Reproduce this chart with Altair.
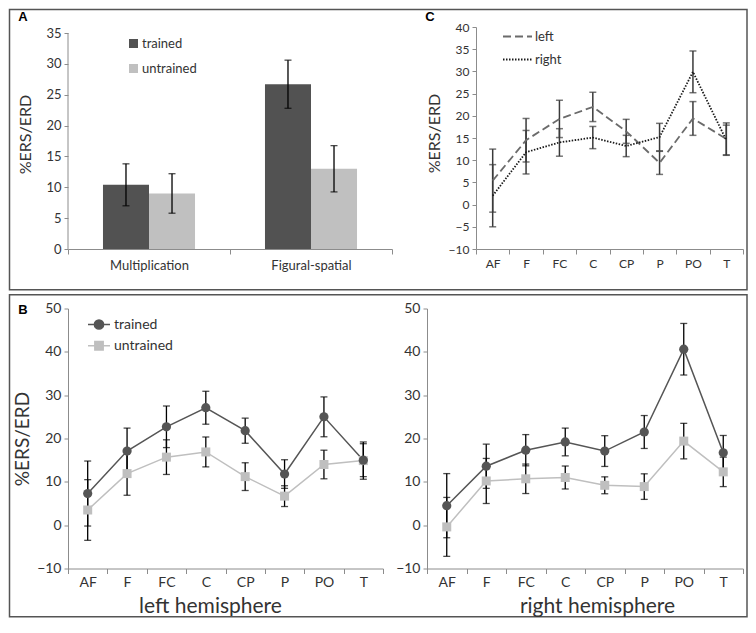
import altair as alt
import pandas as pd

# ---------------- data ----------------
sites = ["AF", "F", "FC", "C", "CP", "P", "PO", "T"]
tasks = ["Multiplication", "Figural-spatial"]
groups = ["trained", "untrained"]
hemis = ["left", "right"]

# Panel A (bars)
a_trained = [10.4, 26.7]
a_trained_err = [3.4, 3.9]
a_untrained = [9.0, 13.0]
a_untrained_err = [3.2, 3.75]

# Panel C (left vs right hemisphere)
c_left = [5.4, 14.5, 19.3, 22.0, 16.5, 9.4, 19.4, 14.8]
c_left_err = [7.1, 4.9, 4.2, 3.3, 2.7, 2.6, 3.8, 3.6]
c_right = [2.0, 11.8, 14.0, 15.1, 13.2, 15.2, 29.9, 14.5]
c_right_err = [7.0, 4.9, 3.1, 2.5, 2.4, 3.1, 4.7, 3.4]

# Panel B, left hemisphere
bl_trained = [7.3, 17.1, 22.7, 27.1, 21.8, 11.8, 25.0, 15.0]
bl_trained_err = [7.5, 5.3, 4.8, 3.8, 2.9, 3.3, 4.6, 3.8]
bl_untrained = [3.5, 11.9, 15.7, 16.9, 11.2, 6.7, 14.0, 14.9]
bl_untrained_err = [7.0, 5.0, 4.0, 3.45, 3.2, 2.4, 3.3, 4.3]

# Panel B, right hemisphere
br_trained = [4.5, 13.6, 17.3, 19.2, 17.1, 21.5, 40.6, 16.7]
br_trained_err = [7.4, 5.1, 3.6, 3.2, 3.55, 3.8, 5.95, 4.0]
br_untrained = [-0.4, 10.2, 10.7, 11.0, 9.2, 8.9, 19.4, 12.3]
br_untrained_err = [6.8, 5.2, 3.4, 2.65, 1.95, 2.95, 4.1, 3.4]

a_ticks = [0, 5, 10, 15, 20, 25, 30, 35]
c_ticks = [-10, -5, 0, 5, 10, 15, 20, 25, 30, 35, 40]
b_ticks = [-10, 0, 10, 20, 30, 40, 50]

# ---------------- style ----------------
FONT = "Lato"
DARK = "#555555"
LIGHT = "#bfbfbf"
AXG = "#8c8c8c"
TXT = "#333333"
Y_TITLE = "%ERS/ERD"

one = pd.DataFrame({"k": [0]})


def box(x0, x1, y0, y1):
    return alt.Chart(one).mark_rect(fill="transparent", stroke="#555555", strokeWidth=1.5).encode(
        x=alt.value(x0), x2=alt.value(x1), y=alt.value(y0), y2=alt.value(y1))


def letter(t, x, y):
    return alt.Chart(one).mark_text(text=t, font="Liberation Sans", fontSize=13, fontWeight="bold",
                                    color="black", align="center", baseline="middle").encode(
        x=alt.value(x), y=alt.value(y))


def with_bounds(df):
    df = df.copy()
    df["lo"] = df["value"] - df["err"]
    df["hi"] = df["value"] + df["err"]
    return df


# ---------------- Panel A ----------------
A_W, A_H = 324, 222
a_top = 35 * A_H / 216.0

dfA = with_bounds(pd.DataFrame({
    "task": tasks + tasks,
    "group": ["trained"] * 2 + ["untrained"] * 2,
    "value": a_trained + a_untrained,
    "err": a_trained_err + a_untrained_err,
}))


def xA():
    return alt.X("task:N", sort=tasks,
                 scale=alt.Scale(domain=tasks, paddingInner=0, paddingOuter=0),
                 axis=alt.Axis(title=None, labelAngle=0, tickBand="extent", labelFontSize=13,
                               labelPadding=5, tickSize=5))


def xoA():
    return alt.XOffset("group:N", sort=groups,
                       scale=alt.Scale(domain=groups, paddingInner=0, paddingOuter=0.76))


def yA(field):
    return alt.Y(field, type="quantitative",
                 scale=alt.Scale(domain=[0, a_top], nice=False, zero=False),
                 axis=alt.Axis(values=a_ticks, domain=False, title=Y_TITLE, titleX=-43, titleY=107,
                               titleFontSize=16, titleAngle=270, titleAlign="center",
                               titleBaseline="middle", tickSize=4, labelPadding=3, labelFontSize=13))


legA = alt.Legend(title=None, orient="none", legendX=59, legendY=10, symbolType="square",
                  symbolSize=81, symbolStrokeWidth=0, labelFontSize=13, rowPadding=11,
                  labelOffset=2, padding=0, labelFont=FONT, labelColor=TXT)

barsA = alt.Chart(dfA).mark_bar().encode(
    x=xA(), xOffset=xoA(), y=yA("value"),
    color=alt.Color("group:N", sort=groups,
                    scale=alt.Scale(domain=groups, range=["#525252", "#c0c0c0"]), legend=legA))
errA = alt.Chart(dfA).mark_rule(color="black", strokeWidth=1.3).encode(
    x=xA(), xOffset=xoA(), y=yA("lo"), y2="hi:Q")
capLoA = alt.Chart(dfA).mark_tick(color="black", size=7, thickness=1.3).encode(
    x=xA(), xOffset=xoA(), y=yA("lo"))
capHiA = alt.Chart(dfA).mark_tick(color="black", size=7, thickness=1.3).encode(
    x=xA(), xOffset=xoA(), y=yA("hi"))
axisLineA = alt.Chart(pd.DataFrame({"y0": [0], "y1": [35]})).mark_rule(color=AXG).encode(
    x=alt.value(0), y=yA("y0"), y2="y1:Q")

panelA = alt.layer(
    box(-58.5, 679, -17.5, 262.75),
    axisLineA, barsA, errA, capLoA, capHiA,
    letter("A", -45, -10.5),
).properties(width=A_W, height=A_H)

# ---------------- Panel C ----------------
C_W, C_H = 267, 222
dfC = with_bounds(pd.DataFrame({
    "site": sites * 2,
    "hemi": ["left"] * 8 + ["right"] * 8,
    "value": c_left + c_right,
    "err": c_left_err + c_right_err,
}))


def xSite(label_size=13, title=None, title_x=0, label_pad=4):
    ax = dict(title=title, labelAngle=0, tickBand="extent", labelFontSize=label_size,
              tickSize=5, labelPadding=label_pad)
    if title:
        ax.update(titleX=title_x, titleY=38, titleFontSize=21, titleAlign="center",
                  titleBaseline="middle")
    return alt.X("site:N", sort=sites,
                 scale=alt.Scale(type="band", domain=sites, paddingInner=0, paddingOuter=0),
                 axis=alt.Axis(**ax))


def yC(field):
    return alt.Y(field, type="quantitative",
                 scale=alt.Scale(domain=[-10, 40], nice=False, zero=False),
                 axis=alt.Axis(values=c_ticks, title=Y_TITLE, titleX=-42, titleY=106,
                               titleFontSize=16, titleAngle=270, titleAlign="center",
                               titleBaseline="middle", tickSize=4, labelPadding=3, labelFontSize=12))


legC = alt.Legend(title=None, orient="none", legendX=26, legendY=-6, symbolType="stroke",
                  symbolSize=841, symbolStrokeWidth=1.8, labelFontSize=13, rowPadding=-12,
                  labelOffset=2, padding=0, labelFont=FONT, labelColor=TXT)

linesC = alt.Chart(dfC).mark_line(strokeWidth=1.8).encode(
    x=xSite(12), y=yC("value"),
    color=alt.Color("hemi:N", sort=hemis, scale=alt.Scale(domain=hemis, range=["#6b6b6b", "#1a1a1a"]),
                    legend=legC),
    strokeDash=alt.StrokeDash("hemi:N", sort=hemis,
                              scale=alt.Scale(domain=hemis, range=[[8, 4], [1.5, 1.5]]), legend=legC),
    detail="hemi:N")
errC = alt.Chart(dfC).mark_rule(color="#3a3a3a", strokeWidth=1.5).encode(
    x=xSite(12), y=yC("lo"), y2="hi:Q")
capLoC = alt.Chart(dfC).mark_tick(color="#3a3a3a", size=7, thickness=1.5).encode(x=xSite(12), y=yC("lo"))
capHiC = alt.Chart(dfC).mark_tick(color="#3a3a3a", size=7, thickness=1.5).encode(x=xSite(12), y=yC("hi"))

panelC = alt.layer(errC, capLoC, capHiC, linesC, letter("C", -46, -10.5)).properties(
    width=C_W, height=C_H)

# ---------------- Panel B ----------------
B_H = 260
circ_path = ("M-1,0L-0.42,0M0.42,0L1,0M-0.42,0A0.42,0.42,0,1,1,0.42,0"
             "A0.42,0.42,0,1,1,-0.42,0Z")
sq_path = "M-1,0L-0.38,0M0.38,0L1,0M-0.38,-0.38L0.38,-0.38L0.38,0.38L-0.38,0.38Z"


def panelB(tr, tr_err, un, un_err, xtitle, title_x, width, y_title, legend, extra):
    df = with_bounds(pd.DataFrame({
        "site": sites * 2,
        "group": ["trained"] * 8 + ["untrained"] * 8,
        "value": tr + un,
        "err": tr_err + un_err,
    }))

    def y(field):
        ax = dict(values=b_ticks, title=y_title, tickSize=4, labelPadding=3, labelFontSize=14)
        if y_title:
            ax.update(titleX=-46, titleY=130, titleFontSize=19, titleAngle=270,
                      titleAlign="center", titleBaseline="middle")
        return alt.Y(field, type="quantitative",
                     scale=alt.Scale(domain=[-10, 50], nice=False, zero=False),
                     axis=alt.Axis(**ax))

    x = lambda: xSite(14, xtitle, title_x, 2)
    layers = list(extra)
    layers.append(alt.Chart(df).transform_filter(alt.datum.group == "untrained").mark_line(
        color=LIGHT, strokeWidth=1.5).encode(x=x(), y=y("value")))
    layers.append(alt.Chart(df).transform_filter(alt.datum.group == "trained").mark_line(
        color=DARK, strokeWidth=1.5).encode(x=x(), y=y("value")))
    layers.append(alt.Chart(df).mark_rule(color="black", strokeWidth=1.3).encode(
        x=x(), y=y("lo"), y2="hi:Q"))
    layers.append(alt.Chart(df).mark_tick(color="black", size=7, thickness=1.3).encode(
        x=x(), y=y("lo")))
    layers.append(alt.Chart(df).mark_tick(color="black", size=7, thickness=1.3).encode(
        x=x(), y=y("hi")))
    layers.append(alt.Chart(df).transform_filter(alt.datum.group == "untrained").mark_square(
        color=LIGHT, size=81, opacity=1).encode(x=x(), y=y("value")))
    layers.append(alt.Chart(df).transform_filter(alt.datum.group == "trained").mark_circle(
        color=DARK, size=85, opacity=1).encode(x=x(), y=y("value")))
    if legend:
        dleg = pd.DataFrame({"site": ["AF", "AF"], "group": groups, "ynull": [None, None]})
        legB = alt.Legend(title=None, orient="none", legendX=19, legendY=4, symbolSize=484,
                          symbolStrokeWidth=1.5, labelFontSize=14, rowPadding=1.3,
                          labelOffset=3, padding=0, labelFont=FONT, labelColor=TXT)
        layers.append(alt.Chart(dleg).mark_point(filled=True, size=484, strokeWidth=1.5, opacity=1).encode(
            x=x(), y=y("ynull"),
            fill=alt.Fill("group:N", sort=groups, scale=alt.Scale(domain=groups, range=[DARK, LIGHT]),
                          legend=legB),
            stroke=alt.Stroke("group:N", sort=groups, scale=alt.Scale(domain=groups, range=[DARK, LIGHT]),
                              legend=legB),
            shape=alt.Shape("group:N", sort=groups,
                            scale=alt.Scale(domain=groups, range=[circ_path, sq_path]), legend=legB)))
    return alt.layer(*layers).properties(width=width, height=B_H)


panelBL = panelB(bl_trained, bl_trained_err, bl_untrained, bl_untrained_err,
                 "left hemisphere", 142, 315, Y_TITLE, True,
                 [box(-58.5, 679, -13.75, 308.25), letter("B", -45, 1)])
panelBR = panelB(br_trained, br_trained_err, br_untrained, br_untrained_err,
                 "right hemisphere", 170, 316, None, False, [])

indep = dict(color="independent", strokeDash="independent", fill="independent",
             stroke="independent", shape="independent", x="independent", y="independent")
indep_leg = dict(color="independent", strokeDash="independent", fill="independent",
                 stroke="independent", shape="independent")

row1 = alt.hconcat(panelA, panelC, spacing=84, bounds="flush").resolve_scale(**indep).resolve_legend(**indep_leg)
row2 = alt.hconcat(panelBL, panelBR, spacing=44, bounds="flush").resolve_scale(**indep).resolve_legend(**indep_leg)

# rows are stacked by their full bounds (the boxes), leaving a small gap between the boxes
chart = alt.vconcat(row1, row2, spacing=2.5).resolve_scale(**indep).resolve_legend(
    **indep_leg).properties(padding=0, background="white").configure_view(stroke=None).configure_axis(
    labelFont=FONT, titleFont=FONT, labelColor=TXT, titleColor=TXT, domainColor=AXG, tickColor=AXG,
    grid=False, titleFontWeight="normal", domainWidth=1, tickWidth=1)

chart.save("out.html", embed_options={"renderer": "svg", "actions": False})
